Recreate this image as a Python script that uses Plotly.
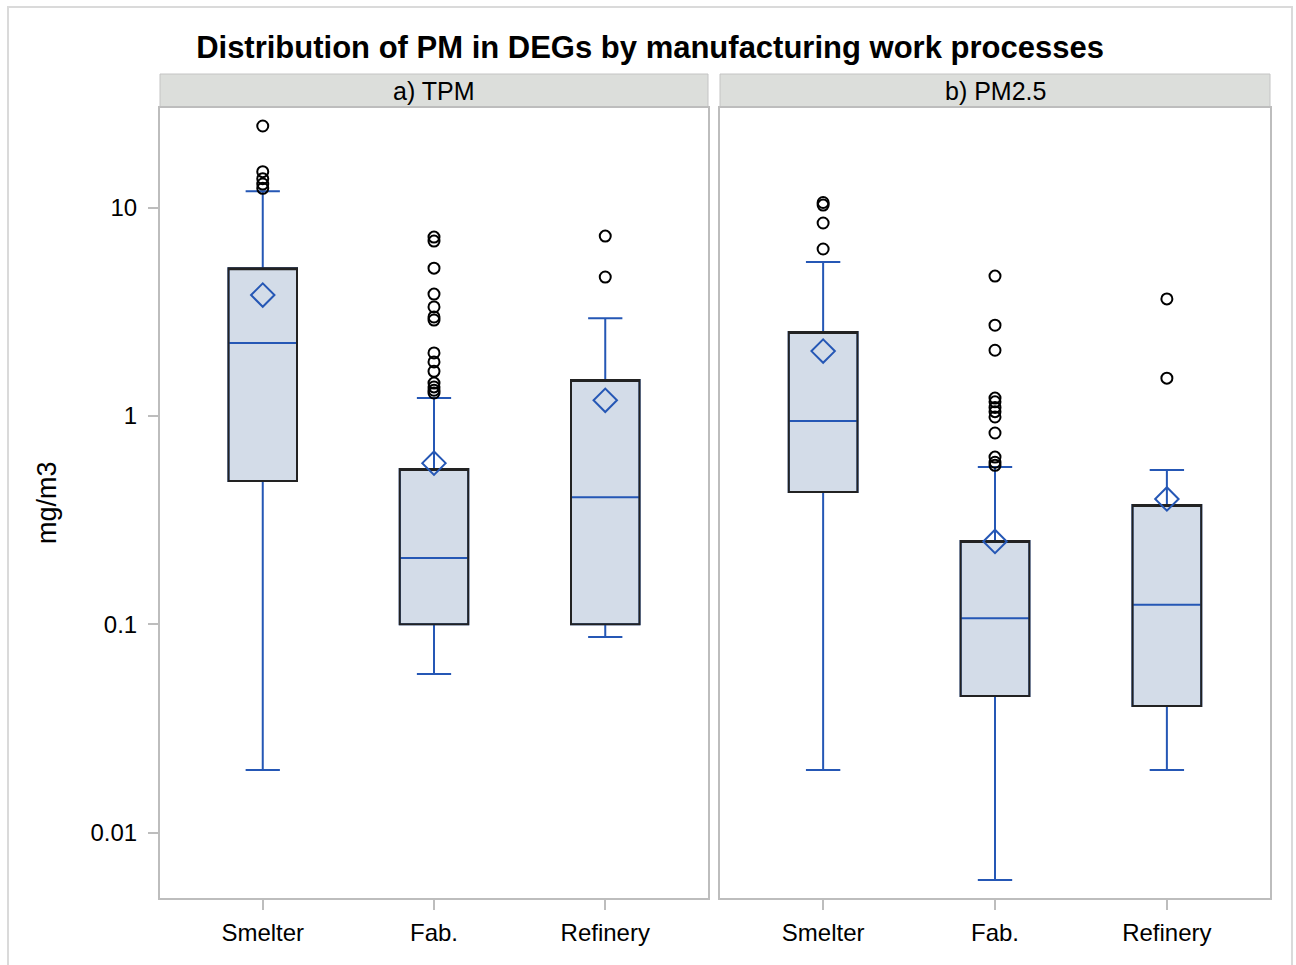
import plotly.graph_objects as go

# ---- data (mg/m3) ----
categories = ["Smelter", "Fab.", "Refinery"]

tpm_q1 = [0.487, 0.100, 0.100]
tpm_median = [2.24, 0.208, 0.408]
tpm_q3 = [5.13, 0.557, 1.49]
tpm_low = [0.020, 0.0577, 0.0869]
tpm_high = [12.0, 1.22, 2.95]
tpm_mean = [3.81, 0.594, 1.19]
tpm_outliers_smelter = [24.7, 14.9, 13.8, 13.0, 12.4]
tpm_outliers_fab = [7.23, 6.92, 5.13, 3.85, 3.34, 2.99, 2.89,
                    2.01, 1.82, 1.64, 1.44, 1.38, 1.33, 1.29]
tpm_outliers_refinery = [7.31, 4.65]

pm25_q1 = [0.432, 0.0453, 0.0405]
pm25_median = [0.946, 0.107, 0.124]
pm25_q3 = [2.53, 0.251, 0.374]
pm25_low = [0.020, 0.00592, 0.020]
pm25_high = [5.49, 0.569, 0.551]
pm25_mean = [2.05, 0.250, 0.400]
pm25_outliers_smelter = [10.6, 10.3, 8.45, 6.34]
pm25_outliers_fab = [4.70, 2.73, 2.07, 1.22, 1.17, 1.10, 1.05, 0.99,
                     0.829, 0.635, 0.60, 0.58]
pm25_outliers_refinery = [3.65, 1.52]

panel_titles = ["a) TPM", "b) PM2.5"]
y_tickvals = [0.01, 0.1, 1, 10]
y_ticktext = ["0.01", "0.1", "1", "10"]

# ---- styles ----
FONT = "Liberation Sans, Arial, sans-serif"
BLUE = "#2557b5"
BOX_FILL = "#d3dce8"
BOX_EDGE = "#222222"
FRAME = "#bdbdbd"
STRIP_FILL = "#dcdedb"

fig = go.Figure()


def add_panel(xa, ya, q1, med, q3, lo, hi, mean, outlier_groups):
    # whiskers, caps, median and fill
    fig.add_trace(go.Box(
        x=categories, q1=q1, median=med, q3=q3,
        lowerfence=lo, upperfence=hi,
        width=0.4, whiskerwidth=0.5,
        fillcolor=BOX_FILL, line=dict(color=BLUE, width=2),
        boxpoints=False, showlegend=False, hoverinfo="skip",
        xaxis=xa, yaxis=ya))
    # dark outline of the interquartile box
    fig.add_trace(go.Box(
        x=categories, q1=q1, median=q3, q3=q3,
        lowerfence=q1, upperfence=q3,
        width=0.4, whiskerwidth=0,
        fillcolor="rgba(0,0,0,0)", line=dict(color=BOX_EDGE, width=2),
        boxpoints=False, showlegend=False, hoverinfo="skip",
        xaxis=xa, yaxis=ya))
    # outliers
    ox, oy = [], []
    for cat, vals in zip(categories, outlier_groups):
        ox += [cat] * len(vals)
        oy += vals
    fig.add_trace(go.Scatter(
        x=ox, y=oy, mode="markers",
        marker=dict(symbol="circle-open", size=11, color="black",
                    line=dict(width=2, color="black")),
        showlegend=False, xaxis=xa, yaxis=ya))
    # means
    fig.add_trace(go.Scatter(
        x=categories, y=mean, mode="markers",
        marker=dict(symbol="diamond-open", size=18, color=BLUE,
                    line=dict(width=2, color=BLUE)),
        showlegend=False, xaxis=xa, yaxis=ya))


add_panel("x", "y", tpm_q1, tpm_median, tpm_q3, tpm_low, tpm_high, tpm_mean,
          [tpm_outliers_smelter, tpm_outliers_fab, tpm_outliers_refinery])
add_panel("x2", "y2", pm25_q1, pm25_median, pm25_q3, pm25_low, pm25_high,
          pm25_mean,
          [pm25_outliers_smelter, pm25_outliers_fab, pm25_outliers_refinery])

W, H = 1296, 965
ML, MR, MT, MB = 160, 26, 108, 67
PW = W - ML - MR
PH = H - MT - MB


def px_x(X):
    return (X - ML) / PW


def px_y(Y):
    return (H - MB - Y) / PH


left_dom = [0, px_x(708)]
right_dom = [px_x(720), 1]

xcommon = dict(
    type="category", categoryorder="array", categoryarray=categories,
    range=[-0.6, 2.6], showgrid=False, zeroline=False,
    showline=True, mirror=True, linecolor=FRAME, linewidth=2,
    ticks="outside", ticklen=10, tickwidth=2, tickcolor=FRAME,
    ticklabelstandoff=2,
    tickfont=dict(family=FONT, size=24, color="black"))
ycommon = dict(
    type="log", range=[-2.314, 1.479], showgrid=False, zeroline=False,
    showline=True, mirror=True, linecolor=FRAME, linewidth=2)

fig.update_layout(
    width=W, height=H,
    margin=dict(l=ML, r=MR, t=MT, b=MB),
    paper_bgcolor="white", plot_bgcolor="white",
    boxmode="overlay",
    font=dict(family=FONT, color="black"),
    title=dict(text="<b>Distribution of PM in DEGs by manufacturing work processes</b>",
               x=650 / W, xanchor="center",
               y=1 - 47 / H, yanchor="middle",
               font=dict(family=FONT, size=31, color="black")),
    xaxis=dict(domain=left_dom, anchor="y", **xcommon),
    xaxis2=dict(domain=right_dom, anchor="y2", **xcommon),
    yaxis=dict(anchor="x", tickvals=y_tickvals, ticktext=y_ticktext,
               ticks="outside", ticklen=10, tickwidth=2, tickcolor=FRAME,
               ticklabelstandoff=6,
               tickfont=dict(family=FONT, size=24, color="black"),
               **ycommon),
    yaxis2=dict(anchor="x2", matches="y", showticklabels=False, ticks="",
                **ycommon),
)

shapes = []
annotations = []
# outer frame
shapes.append(dict(type="rect", xref="paper", yref="paper",
                   x0=px_x(8), x1=px_x(1292), y0=px_y(975), y1=px_y(7),
                   line=dict(color="#dadada", width=2), fillcolor="rgba(0,0,0,0)",
                   layer="below"))
# panel header strips
for dom, label in zip([left_dom, right_dom], panel_titles):
    shapes.append(dict(type="rect", xref="paper", yref="paper",
                       x0=dom[0], x1=dom[1], y0=px_y(107), y1=px_y(74),
                       line=dict(color="#c4c4c4", width=1),
                       fillcolor=STRIP_FILL, layer="below"))
    annotations.append(dict(text=label, xref="paper", yref="paper",
                            x=(dom[0] + dom[1]) / 2, y=px_y(91),
                            xanchor="center", yanchor="middle", showarrow=False,
                            font=dict(family=FONT, size=25, color="black")))
# y-axis title
annotations.append(dict(text="mg/m3", xref="paper", yref="paper",
                        x=px_x(47), y=px_y(503), textangle=-90,
                        xanchor="center", yanchor="middle", showarrow=False,
                        font=dict(family=FONT, size=27, color="black")))

fig.update_layout(shapes=shapes, annotations=annotations)

fig.write_html("out.html")
